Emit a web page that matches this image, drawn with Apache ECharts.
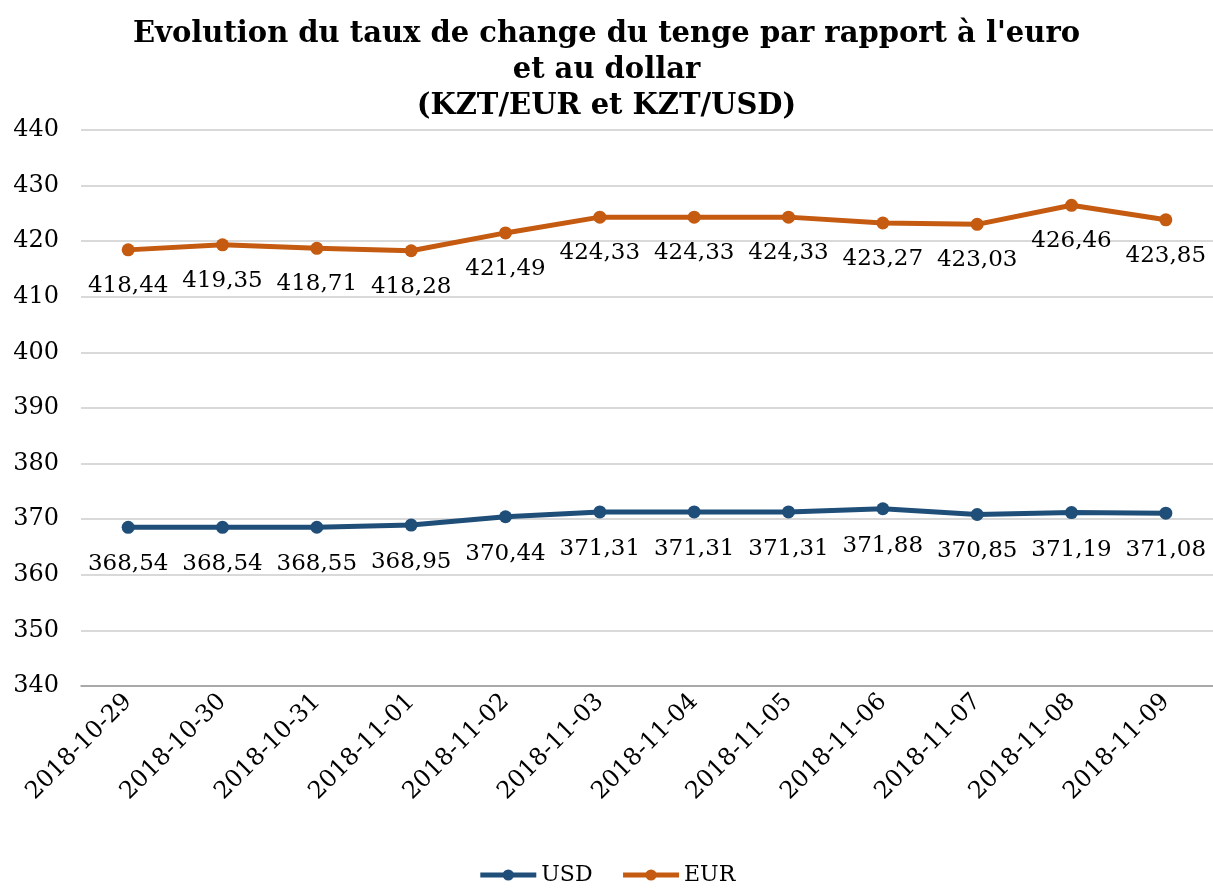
<!DOCTYPE html>
<html lang="fr">
<head>
<meta charset="UTF-8">
<title>Evolution du taux de change du tenge</title>
<script src="https://cdn.jsdelivr.net/npm/echarts@6/dist/echarts.min.js"></script>
<style>
  html, body { margin: 0; padding: 0; background: #fff; }
</style>
</head>
<body>
<div id="main" style="width: 1213px;height:889px;"></div>
<script>
  const dates = ['2018-10-29', '2018-10-30', '2018-10-31', '2018-11-01', '2018-11-02', '2018-11-03',
    '2018-11-04', '2018-11-05', '2018-11-06', '2018-11-07', '2018-11-08', '2018-11-09'];
  const usd = [368.54, 368.54, 368.55, 368.95, 370.44, 371.31, 371.31, 371.31, 371.88, 370.85, 371.19, 371.08];
  const eur = [418.44, 419.35, 418.71, 418.28, 421.49, 424.33, 424.33, 424.33, 423.27, 423.03, 426.46, 423.85];
  const yTicks = [340, 350, 360, 370, 380, 390, 400, 410, 420, 430, 440];

  const font = 'DejaVu Serif';
  const colors = ['#1f4e79', '#c55a11'];
  const myChart = echarts.init(document.getElementById('main'));

  const fmt = v => v.toFixed(2).replace('.', ',');

  const option = {
    color: colors,
    textStyle: { fontFamily: font },
    title: {
      text: "Evolution du taux de change du tenge par rapport à l'euro\net au dollar\n(KZT/EUR et KZT/USD)",
      left: 'center',
      top: 11,
      textStyle: {
        fontFamily: font,
        fontWeight: 'bold',
        fontSize: 29,
        lineHeight: 36,
        color: '#000'
      }
    },
    legend: {
      bottom: -2,
      left: 'center',
      itemWidth: 56,
      itemHeight: 14,
      itemGap: 28,
      lineStyle: { width: 5 },
      textStyle: { fontFamily: font, fontSize: 22, color: '#000' },
      data: ['USD', 'EUR']
    },
    grid: {
      left: 81,
      top: 130,
      width: 1136,
      height: 556
    },
    xAxis: {
      type: 'category',
      data: dates,
      boundaryGap: true,
      axisTick: { show: false },
      axisLine: { lineStyle: { color: '#999', width: 1.5 } },
      axisLabel: {
        rotate: 45,
        interval: 0,
        margin: 12,
        fontFamily: font,
        fontSize: 24,
        color: '#000'
      }
    },
    yAxis: {
      type: 'value',
      min: yTicks[0],
      max: yTicks[yTicks.length - 1],
      interval: 10,
      axisLine: { show: false },
      axisTick: { show: false },
      splitLine: { lineStyle: { color: '#d9d9d9', width: 2 } },
      axisLabel: {
        margin: 22,
        fontFamily: font,
        fontSize: 24,
        color: '#000'
      }
    },
    series: [
      {
        name: 'USD',
        type: 'line',
        data: usd,
        symbol: 'circle',
        symbolSize: 13,
        lineStyle: { width: 5 },
        label: {
          show: true,
          position: 'bottom',
          distance: 19,
          fontFamily: font,
          fontSize: 23,
          color: '#000',
          formatter: p => fmt(p.value)
        }
      },
      {
        name: 'EUR',
        type: 'line',
        data: eur,
        symbol: 'circle',
        symbolSize: 13,
        lineStyle: { width: 5 },
        label: {
          show: true,
          position: 'bottom',
          distance: 18,
          fontFamily: font,
          fontSize: 23,
          color: '#000',
          formatter: p => fmt(p.value)
        }
      }
    ]
  };
  myChart.setOption(option);
</script>
</body>
</html>
